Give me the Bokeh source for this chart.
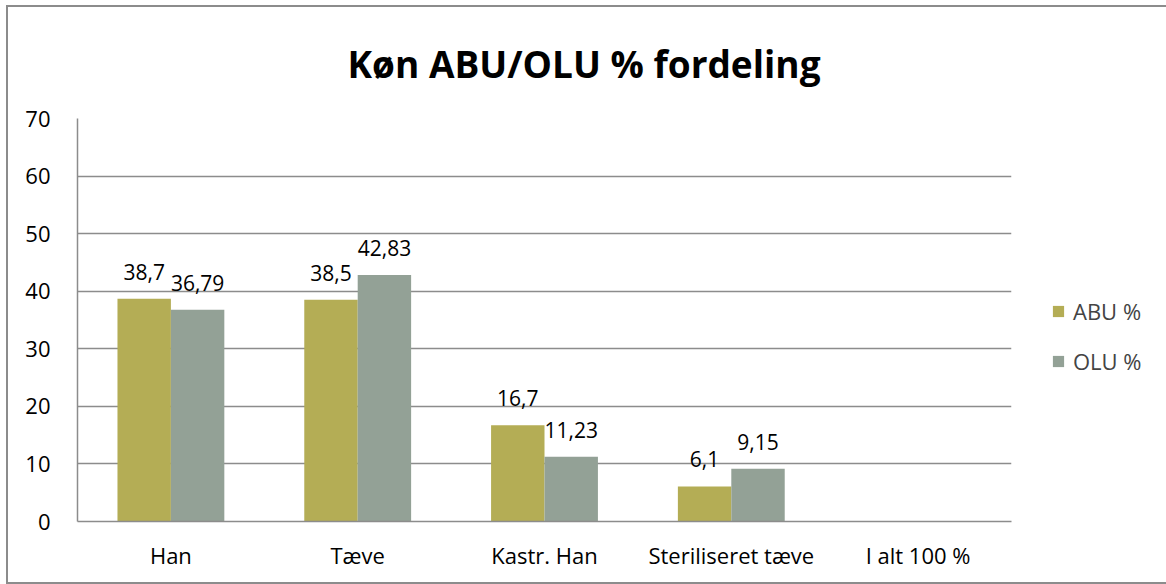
import math
from bokeh.plotting import figure
from bokeh.models import ColumnDataSource, FactorRange, Range1d, FixedTicker, Legend, LegendItem
from bokeh.transform import dodge
from bokeh.core.properties import value
from bokeh.embed import file_html
from bokeh.resources import INLINE

title_text = "Køn ABU/OLU % fordeling"
categories = ["Han", "Tæve", "Kastr. Han", "Steriliseret tæve", "I alt 100 %"]
abu = [38.7, 38.5, 16.7, 6.1, float("nan")]
olu = [36.79, 42.83, 11.23, 9.15, float("nan")]
y_ticks = [0, 10, 20, 30, 40, 50, 60, 70]

ABU_COLOR = "#B4AD55"
OLU_COLOR = "#93A196"
FONT = "Open Sans"


def fmt(v):
    return "" if math.isnan(v) else f"{v:g}".replace(".", ",")


src = ColumnDataSource(dict(
    cat=categories,
    abu=abu,
    olu=olu,
    abu_lbl=[fmt(v) for v in abu],
    olu_lbl=[fmt(v) for v in olu],
))

p = figure(
    x_range=FactorRange(*categories, range_padding=0),
    y_range=Range1d(0, 70),
    frame_width=934, frame_height=403,
    min_border_left=69, min_border_top=111, min_border_bottom=61, min_border_right=153,
    output_backend="svg", toolbar_location=None,
    title=title_text,
)
p.styles = {"border": "2px solid #8C8C8C", "margin-left": "6px", "margin-top": "5px"}

p.title.align = "left"
p.title.offset = 270
p.title.vertical_align = "top"
p.title.standoff = 56
p.title.text_font = FONT
p.title.text_font_size = "37px"
p.title.text_font_style = "bold"
p.title.text_color = "#000000"

w = 0.286
r1 = p.vbar(x=dodge("cat", -w / 2, range=p.x_range), top="abu", width=w, source=src,
            fill_color=ABU_COLOR, line_color=None)
r2 = p.vbar(x=dodge("cat", w / 2, range=p.x_range), top="olu", width=w, source=src,
            fill_color=OLU_COLOR, line_color=None)

for col, lbl, off in [("abu", "abu_lbl", -w / 2), ("olu", "olu_lbl", w / 2)]:
    p.text(x=dodge("cat", off, range=p.x_range), y=col, text=lbl, source=src,
           text_align="center", text_baseline="alphabetic", y_offset=-27,
           text_font=value(FONT), text_font_size="21px", text_color="#000000")

p.outline_line_color = None
p.xgrid.grid_line_color = None
p.ygrid.grid_line_color = "#8C8C8C"
p.ygrid.grid_line_width = 1.5
p.yaxis.ticker = FixedTicker(ticks=y_ticks)

for ax in (p.xaxis[0], p.yaxis[0]):
    ax.axis_line_color = "#8C8C8C"
    ax.axis_line_width = 1.5
    ax.major_tick_line_color = None
    ax.minor_tick_line_color = None
    ax.major_label_text_font = FONT
    ax.major_label_text_font_size = "22px"
    ax.major_label_text_color = "#000000"
p.yaxis.major_label_standoff = 21
p.xaxis.major_label_standoff = 12

legend = Legend(items=[LegendItem(label="ABU %", renderers=[r1]),
                       LegendItem(label="OLU %", renderers=[r2])],
                location=(30, 135), orientation="vertical",
                glyph_width=14, glyph_height=14, spacing=20, label_standoff=8,
                label_text_font=FONT, label_text_font_size="22px",
                border_line_alpha=0, background_fill_alpha=0)
p.add_layout(legend, "right")

open("out.html", "w").write(file_html(p, INLINE))
